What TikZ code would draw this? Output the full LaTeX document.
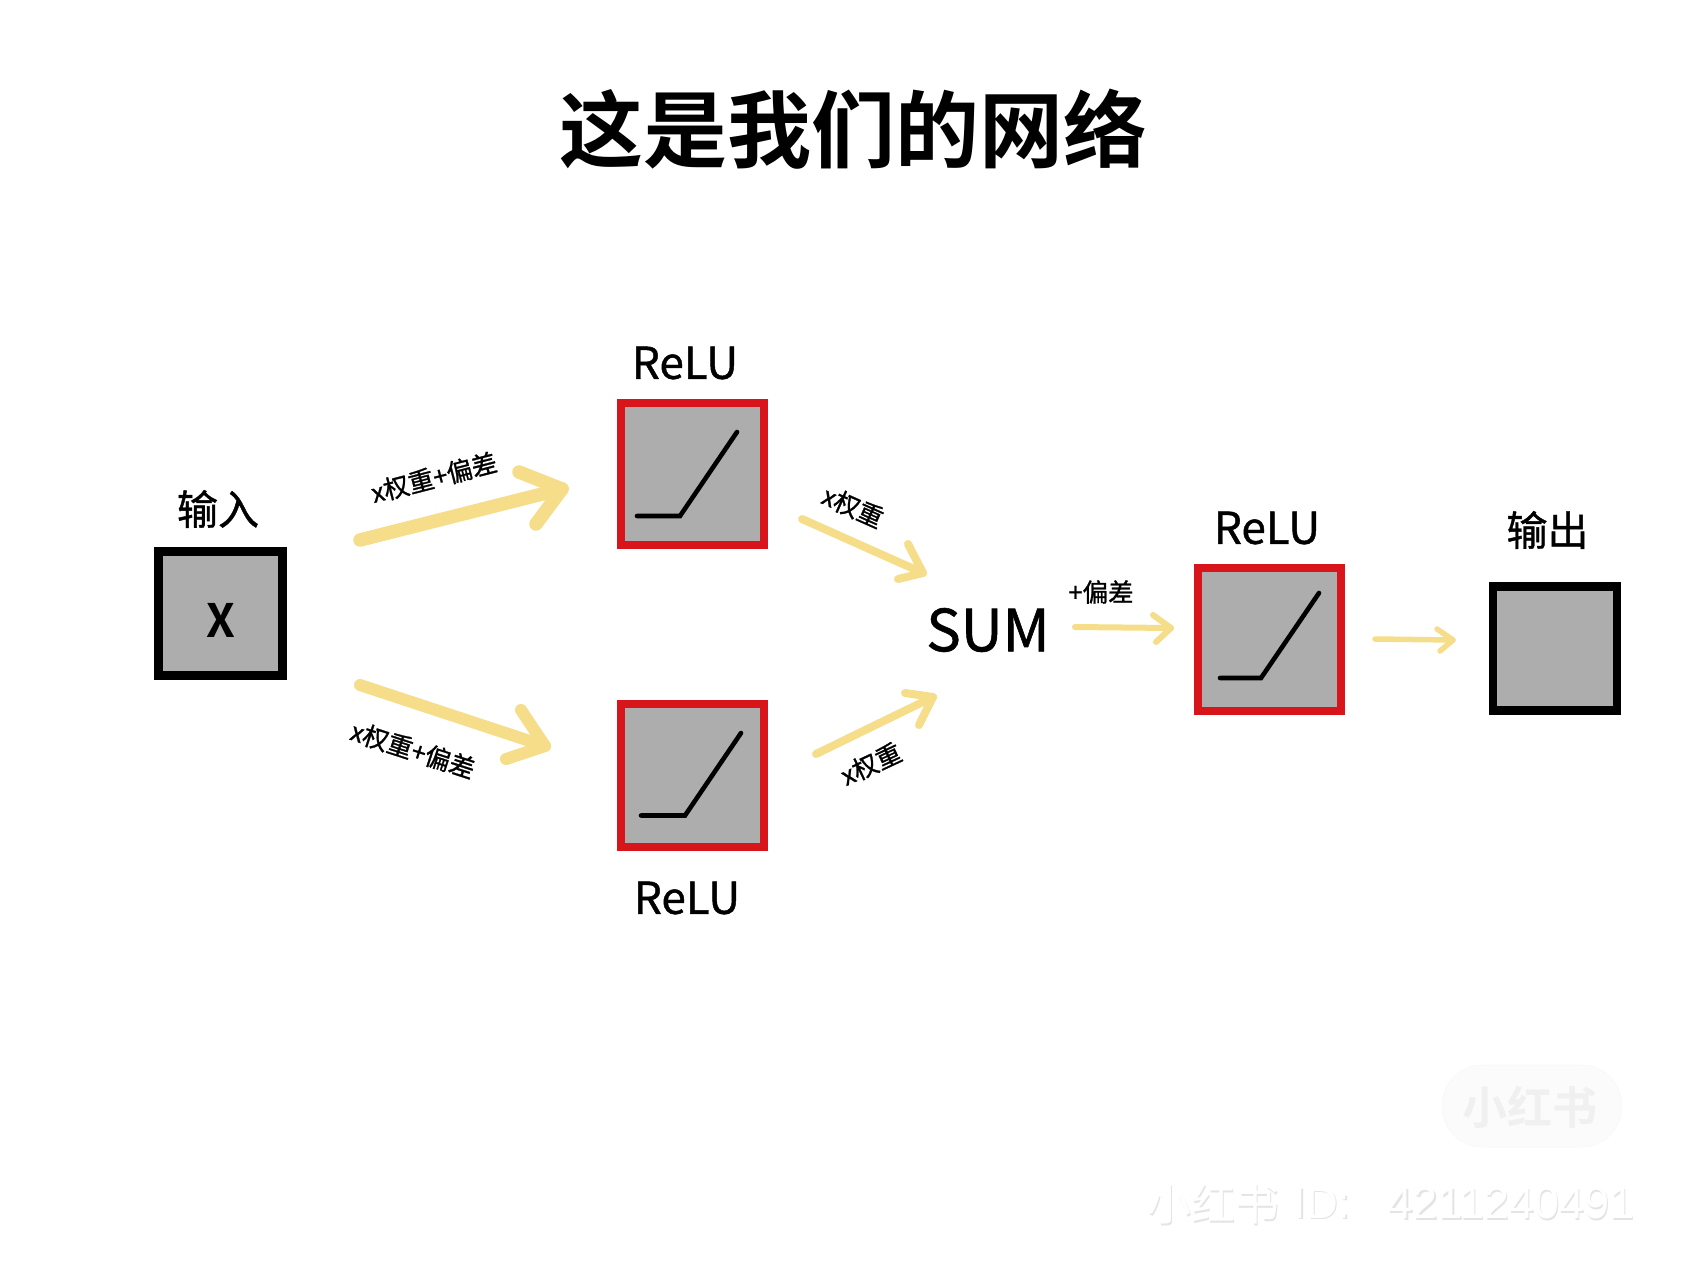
\documentclass[tikz,border=0pt]{standalone}
\usepackage{fontspec}
\setmainfont{Noto Sans CJK SC}
\newfontfamily\medfont[FakeBold=1.0]{Noto Sans CJK SC}
\newfontfamily\boldcjk{Noto Sans CJK SC Bold}
\newfontfamily\wmfont{Liberation Sans}
\newcommand{\fsz}[1]{\fontsize{#1}{#1}\selectfont}
\definecolor{boxgray}{HTML}{ADADAD}
\definecolor{boxred}{HTML}{D7151A}
\definecolor{arrowyellow}{HTML}{F5DD8A}
\definecolor{wmshadow}{HTML}{E4E4E4}
\definecolor{pillfill}{HTML}{FBFBFB}
\definecolor{pilltext}{HTML}{F0F0F0}
\tikzset{
  blackbox/.style={draw=black,fill=boxgray,line width=8.6pt,minimum width=124pt,minimum height=124.5pt,outer sep=0pt,inner sep=0pt},
  redbox/.style={draw=boxred,fill=boxgray,line width=8.4pt,minimum width=142.5pt,minimum height=142.5pt,outer sep=0pt,inner sep=0pt},
  lab/.style={inner sep=0pt,font=\medfont\fsz{44}},
  cjklab/.style={inner sep=0pt,font=\medfont\fsz{41}},
  small/.style={inner sep=0pt,font=\medfont\fsz{25.5}},
  yarrow/.style={draw=arrowyellow,line cap=round,line join=round},
  relu/.style={draw=black,line width=4.6pt,line join=miter,line cap=round},
}
\begin{document}
\begin{tikzpicture}[x=1pt,y=-1pt]
\useasboundingbox (0,0) rectangle (1705,1280);
\fill[white] (0,0) rectangle (1705,1280);
% title
\node[inner sep=0pt,font=\boldcjk\fsz{84}] (title) at (853,129) {这是我们的网络};
% boxes
\node[blackbox] (input) at (220.5,613.5) {};
\node[redbox] (r1) at (692.5,474) {};
\node[redbox] (r2) at (692.5,775.5) {};
\node[redbox] (r3) at (1269.5,639.5) {};
\node[blackbox] (output) at (1555,648.5) {};
% texts
\node[inner sep=0pt,font=\boldcjk\fsz{46}] (xt) at (220.5,620) {X};
\node[cjklab] (linput) at (218,509) {输入};
\node[lab] (l1) at (685,363) {ReLU};
\node[lab] (l2) at (687,898) {ReLU};
\node[lab] (l3) at (1267,528) {ReLU};
\node[cjklab] (loutput) at (1547.5,530) {输出};
\node[inner sep=0pt,font=\medfont\fsz{58}] (sum) at (988,630) {SUM};
\node[small,rotate=14.5] (w1) at (434,477.5) {x权重+偏差};
\node[small,rotate=-18] (w2) at (413,750) {x权重+偏差};
\node[small,rotate=-24] (w3) at (853,507) {x权重};
\node[small,rotate=25] (w4) at (871,764) {x权重};
\node[small] (w5) at (1101,592) {+偏差};
% relu curves
\coordinate (c1a) at (637,516); \coordinate (c1b) at (680,516); \coordinate (c1c) at (737,432);
\coordinate (c2a) at (641,815.5); \coordinate (c2b) at (685,815.5); \coordinate (c2c) at (741,733);
\coordinate (c3a) at (1220,678); \coordinate (c3b) at (1261,678); \coordinate (c3c) at (1319,593);
\draw[relu] (c1a) -- (c1b) -- (c1c);
\draw[relu] (c2a) -- (c2b) -- (c2c);
\draw[relu] (c3a) -- (c3b) -- (c3c);
% arrows
\coordinate (a1s) at (360,540); \coordinate (a1t) at (562,489); \coordinate (a1u) at (519,472); \coordinate (a1v) at (536,524);
\coordinate (a2s) at (360,685); \coordinate (a2t) at (545,746); \coordinate (a2u) at (521,710); \coordinate (a2v) at (506,759);
\coordinate (a3s) at (802,519); \coordinate (a3t) at (923,573); \coordinate (a3u) at (908,544); \coordinate (a3v) at (898,579);
\coordinate (a4s) at (816,754); \coordinate (a4t) at (933,697); \coordinate (a4u) at (905,693); \coordinate (a4v) at (919,725);
\coordinate (a5s) at (1075,627); \coordinate (a5t) at (1171,628); \coordinate (a5u) at (1153,615); \coordinate (a5v) at (1156,642);
\coordinate (a6s) at (1375,639); \coordinate (a6t) at (1453,640); \coordinate (a6u) at (1437,629); \coordinate (a6v) at (1440,651);
\draw[yarrow,line width=13.5pt] (a1s) -- (a1t); \draw[yarrow,line width=13.5pt] (a1u) -- (a1t) -- (a1v);
\draw[yarrow,line width=12pt] (a2s) -- (a2t); \draw[yarrow,line width=12pt] (a2u) -- (a2t) -- (a2v);
\draw[yarrow,line width=8pt] (a3s) -- (a3t); \draw[yarrow,line width=8pt] (a3u) -- (a3t) -- (a3v);
\draw[yarrow,line width=8pt] (a4s) -- (a4t); \draw[yarrow,line width=8pt] (a4u) -- (a4t) -- (a4v);
\draw[yarrow,line width=6pt] (a5s) -- (a5t); \draw[yarrow,line width=6pt] (a5u) -- (a5t) -- (a5v);
\draw[yarrow,line width=5.5pt] (a6s) -- (a6t); \draw[yarrow,line width=5.5pt] (a6u) -- (a6t) -- (a6v);
% watermark
\node[draw=pilltext!50!white,fill=pillfill,rounded corners=41pt,minimum width=180pt,minimum height=82pt,inner sep=0pt,line width=.6pt] (pill) at (1532,1106) {};
\node[inner sep=0pt,text=pilltext,font=\boldcjk\fsz{45}] (pilllabel) at (1530,1107) {小红书};
\foreach \dx/\col in {1.5/wmshadow,0/white}{
  \node[inner sep=0pt,text=\col,font=\fsz{44}] at (1213+\dx,1204+\dx) {小红书};
  \node[inner sep=0pt,text=\col,font=\wmfont\fsz{44}] at (1322+\dx,1203+\dx) {ID:};
  \node[inner sep=0pt,text=\col,font=\wmfont\fsz{45}] at (1511+\dx,1203+\dx) {4211240491};
}
\end{tikzpicture}
\end{document}
